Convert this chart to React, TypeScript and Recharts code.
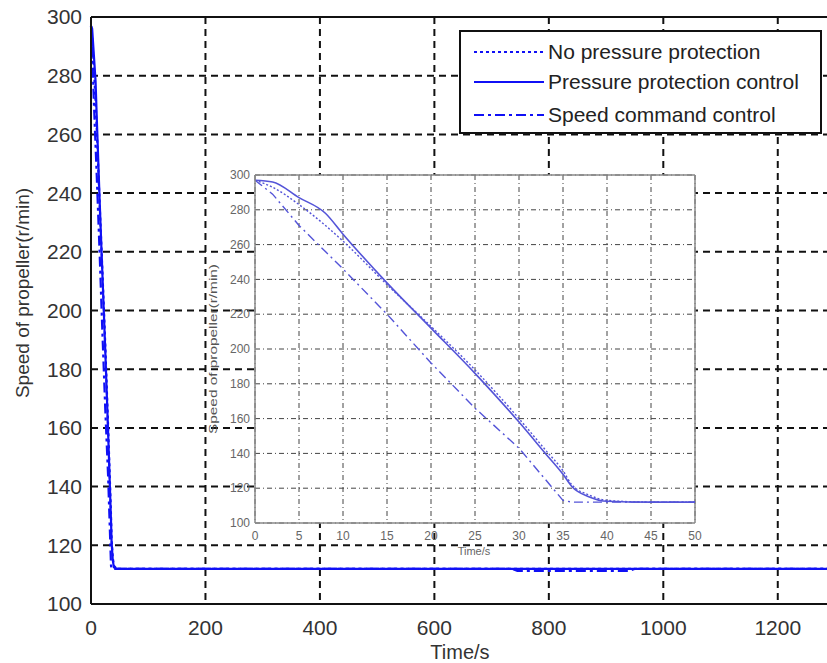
import React from "react";
import {
  LineChart,
  Line,
  XAxis,
  YAxis,
  CartesianGrid,
  ReferenceLine,
} from "recharts";

// inset (zoomed) time axis, seconds
const insetTime = [0, 2, 5, 8, 10, 15, 20, 25, 30, 33, 35, 36, 38, 40, 45, 50];
const noProtection = [297, 293, 283, 271, 262, 237, 213, 188, 160, 142, 130, 122, 116, 113, 112, 112];
const pressureControl = [297, 296, 287, 278, 266, 238, 212, 186, 158, 140, 128, 121, 115, 112.5, 112, 112];
const speedCommand = [297, 289, 271, 256, 246, 220, 192, 166, 143, 125, 113, 112, 112, 112, 112, 112];

// rest of the long run shown on the main chart
const tailTime = [100, 735, 745, 940, 950, 1300];
const tailNoProtection = [112, 112, 112, 112, 112, 112];
const tailPressure = [112, 112, 112, 112, 112, 112];
const tailSpeed = [112, 112, 111.3, 111.3, 112, 112];

const mainXTicks = [0, 200, 400, 600, 800, 1000, 1200];
const mainYTicks = [100, 120, 140, 160, 180, 200, 220, 240, 260, 280, 300];
const insetXTicks = [0, 5, 10, 15, 20, 25, 30, 35, 40, 45, 50];
const insetYTicks = [100, 120, 140, 160, 180, 200, 220, 240, 260, 280, 300];

const seriesNames = ["No pressure protection", "Pressure protection control", "Speed command control"];

const insetData = insetTime.map((t, i) => ({
  t,
  a: noProtection[i],
  b: pressureControl[i],
  c: speedCommand[i],
}));

const mainData = [
  ...insetData,
  ...tailTime.map((t, i) => ({
    t,
    a: tailNoProtection[i],
    b: tailPressure[i],
    c: tailSpeed[i],
  })),
];

const FONT = "'Liberation Sans', Arial, sans-serif";
const BLUE = "#1010f5";
const INSET_BLUE = "#5454d8";
const dashes = ["3 3", undefined, "10 4 3 4"];

function AxisText(props: any) {
  const { px, py, text, size, rotate, fill, stretch } = props;
  return (
    <text
      x={px}
      y={py}
      textAnchor="middle"
      dominantBaseline="central"
      fontSize={size}
      fontFamily={FONT}
      fill={fill}
      transform={rotate ? `rotate(-90 ${px} ${py})` : undefined}
      textLength={stretch}
      lengthAdjust={stretch ? "spacingAndGlyphs" : undefined}
    >
      {text}
    </text>
  );
}

// legend box drawn over the main plot, top right
function MainLegend() {
  return (
    <div
      style={{
        position: "absolute",
        left: 459,
        top: 30,
        width: 363,
        height: 104,
        border: "2px solid #111",
        background: "#fff",
        boxSizing: "border-box",
        fontFamily: FONT,
      }}
    >
      {seriesNames.map((name, i) => (
        <div
          key={name}
          style={{
            position: "absolute",
            left: 13,
            top: [20, 50, 83][i] - 13,
            height: 26,
            display: "flex",
            alignItems: "center",
            whiteSpace: "nowrap",
          }}
        >
          <svg width={74} height={26}>
            <line x1={0} y1={13} x2={70} y2={13} stroke={BLUE} strokeWidth={2.2} strokeDasharray={dashes[i]} />
          </svg>
          <span style={{ fontSize: 21, color: "#222" }}>{name}</span>
        </div>
      ))}
    </div>
  );
}

export default function App() {
  return (
    <div
      style={{
        position: "absolute",
        left: 0,
        top: 0,
        width: 827,
        height: 663,
        overflow: "hidden",
        background: "#fff",
        fontFamily: FONT,
      }}
    >
      <LineChart width={850} height={663} data={mainData} margin={{ top: 17, right: 15, bottom: 0, left: 0 }}>
        <CartesianGrid stroke="#111" strokeWidth={2} strokeDasharray="7 5" />
        <XAxis
          dataKey="t"
          type="number"
          domain={[0, 1300]}
          ticks={mainXTicks}
          height={59}
          tickLine={false}
          tickSize={6}
          tickMargin={10}
          axisLine={{ stroke: "#111", strokeWidth: 2 }}
          tick={{ fontSize: 21, fill: "#333", fontFamily: FONT }}
          label={<AxisText px={460} py={652} text="Time/s" size={20} fill="#333" />}
        />
        <YAxis
          type="number"
          domain={[100, 300]}
          ticks={mainYTicks}
          width={91}
          tickLine={false}
          tickSize={6}
          tickMargin={3}
          axisLine={{ stroke: "#111", strokeWidth: 2 }}
          tick={{ fontSize: 21, fill: "#333", fontFamily: FONT }}
          label={<AxisText px={22} py={293} text="Speed of propeller(r/min)" size={19} fill="#333" rotate />}
        />
        <ReferenceLine y={300} stroke="#111" strokeWidth={2} />
        <ReferenceLine x={1300} stroke="#111" strokeWidth={2} />
        <Line dataKey="a" name={seriesNames[0]} stroke={BLUE} strokeWidth={2.2} strokeDasharray="3 3" dot={false} isAnimationActive={false} />
        <Line dataKey="b" name={seriesNames[1]} stroke={BLUE} strokeWidth={2.2} dot={false} isAnimationActive={false} />
        <Line dataKey="c" name={seriesNames[2]} stroke={BLUE} strokeWidth={2.2} strokeDasharray="10 4 3 4" dot={false} isAnimationActive={false} />
      </LineChart>

      <MainLegend />

      <div style={{ position: "absolute", left: 205, top: 165 }}>
        <LineChart width={500} height={395} data={insetData} margin={{ top: 10, right: 10, bottom: 0, left: 0 }}>
          <CartesianGrid fill="#fff" stroke="#444" strokeWidth={1} strokeDasharray="5 3 1 3" />
          <XAxis
            dataKey="t"
            type="number"
            domain={[0, 50]}
            ticks={insetXTicks}
            height={37}
            tickLine={false}
            tickSize={3}
            tickMargin={5}
            axisLine={{ stroke: "#888", strokeWidth: 1.5 }}
            tick={{ fontSize: 12, fill: "#666", fontFamily: FONT }}
            label={<AxisText px={269} py={386} text="Time/s" size={11} fill="#666" />}
          />
          <YAxis
            type="number"
            domain={[100, 300]}
            ticks={insetYTicks}
            width={50}
            tickLine={false}
            tickSize={3}
            tickMargin={2}
            axisLine={{ stroke: "#888", strokeWidth: 1.5 }}
            tick={{ fontSize: 12, fill: "#666", fontFamily: FONT }}
            label={
              <AxisText px={8} py={184} text="Speed of propeller(r/min)" size={11} fill="#555" rotate stretch={170} />
            }
          />
          <ReferenceLine y={300} stroke="#888" strokeWidth={1.5} />
          <ReferenceLine x={50} stroke="#888" strokeWidth={1.5} />
          <Line type="monotone" dataKey="a" stroke={INSET_BLUE} strokeWidth={1.4} strokeDasharray="2 2" dot={false} isAnimationActive={false} />
          <Line type="monotone" dataKey="b" stroke={INSET_BLUE} strokeWidth={1.6} dot={false} isAnimationActive={false} />
          <Line dataKey="c" stroke={INSET_BLUE} strokeWidth={1.4} strokeDasharray="9 4 2 4" dot={false} isAnimationActive={false} />
        </LineChart>
      </div>
    </div>
  );
}
